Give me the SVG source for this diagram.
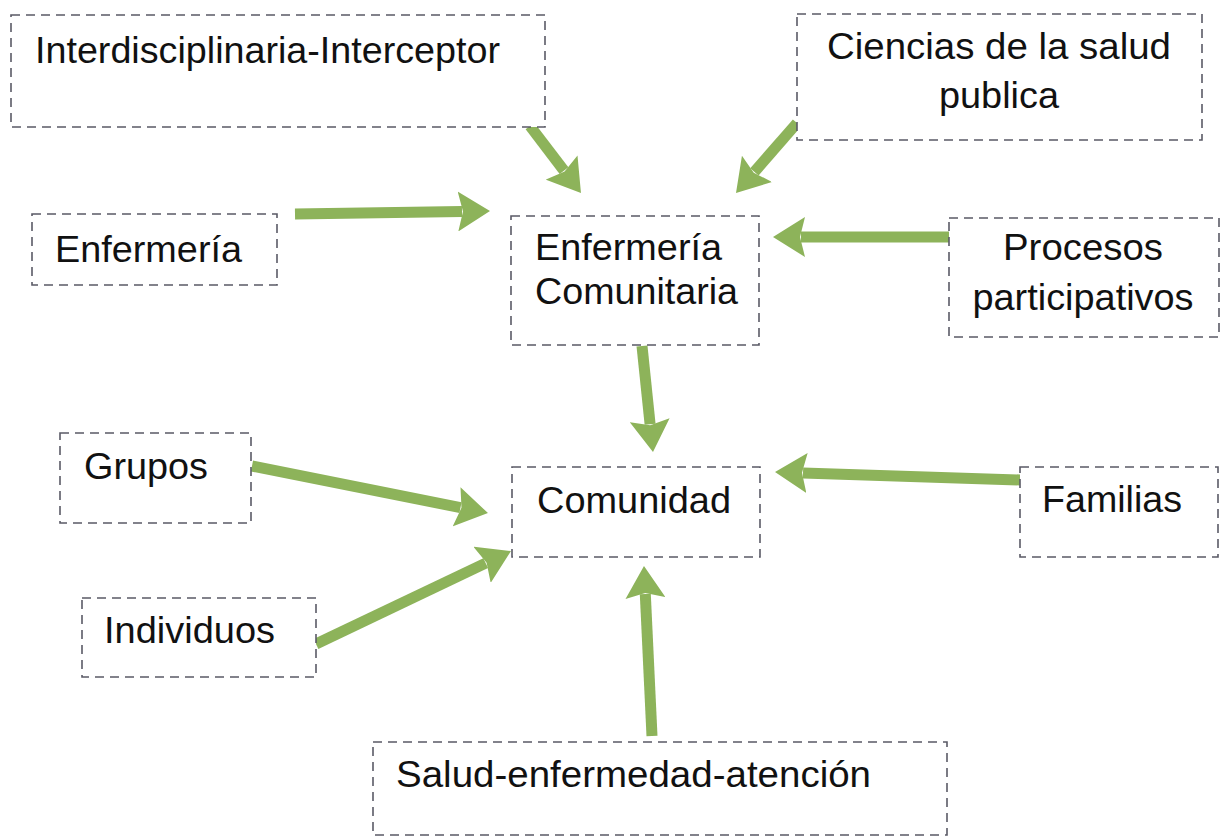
<svg xmlns="http://www.w3.org/2000/svg" width="1220" height="838" viewBox="0 0 1220 838">
<style>
.box{fill:#fff;stroke:#5a5a66;stroke-width:1.6;stroke-dasharray:9 6}
.t{font-family:"Liberation Sans",Arial,sans-serif;font-size:37px;fill:#111}
.c{text-anchor:middle}
.arr{stroke:#8db35a;stroke-width:11;fill:none;marker-end:url(#ah)}
</style>
<defs>
<marker id="ah" viewBox="0 0 32 40" markerUnits="userSpaceOnUse" markerWidth="32" markerHeight="40" refX="4" refY="20" orient="auto">
<path d="M0,0 L32,20 L0,40 L5,20 z" fill="#8db35a"/>
</marker>
</defs>
<rect width="1220" height="838" fill="#fff"/>
<g id="connectors">
<line class="arr" x1="530" y1="126" x2="564" y2="170.7"/>
<line class="arr" x1="797" y1="123" x2="754.4" y2="171.9"/>
<line class="arr" x1="295" y1="214" x2="462" y2="211.4"/>
<line class="arr" x1="949" y1="237" x2="801" y2="237"/>
<line class="arr" x1="642" y1="346" x2="650.1" y2="424.2"/>
<line class="arr" x1="252" y1="466" x2="460.5" y2="507.6"/>
<line class="arr" x1="316" y1="644" x2="485.7" y2="563.1"/>
<line class="arr" x1="1020" y1="480" x2="803" y2="472.9"/>
<line class="arr" x1="652" y1="736" x2="645.3" y2="594"/>
</g>
<g id="interdisciplinaria">
<rect class="box" x="11" y="15" width="534" height="112"/>
<text class="t" x="35" y="63" textLength="465" lengthAdjust="spacingAndGlyphs">Interdisciplinaria-Interceptor</text>
</g>
<g id="ciencias">
<rect class="box" x="797" y="14" width="405" height="126"/>
<text class="t c" x="999" y="59" textLength="344" lengthAdjust="spacingAndGlyphs">Ciencias de la salud</text>
<text class="t c" x="999" y="108" textLength="120" lengthAdjust="spacingAndGlyphs">publica</text>
</g>
<g id="enfermeria">
<rect class="box" x="32" y="214" width="245" height="71"/>
<text class="t" x="55" y="262" textLength="187" lengthAdjust="spacingAndGlyphs">Enfermería</text>
</g>
<g id="enfermeria-comunitaria">
<rect class="box" x="511" y="216" width="248" height="129"/>
<text class="t" x="535" y="260" textLength="187" lengthAdjust="spacingAndGlyphs">Enfermería</text>
<text class="t" x="535" y="304" textLength="203" lengthAdjust="spacingAndGlyphs">Comunitaria</text>
</g>
<g id="procesos">
<rect class="box" x="949" y="218" width="270" height="119"/>
<text class="t c" x="1083" y="260" textLength="160" lengthAdjust="spacingAndGlyphs">Procesos</text>
<text class="t c" x="1083" y="310" textLength="221" lengthAdjust="spacingAndGlyphs">participativos</text>
</g>
<g id="grupos">
<rect class="box" x="60" y="433" width="191" height="90"/>
<text class="t" x="84" y="479" textLength="124" lengthAdjust="spacingAndGlyphs">Grupos</text>
</g>
<g id="comunidad">
<rect class="box" x="512" y="467" width="248" height="90"/>
<text class="t" x="537" y="513" textLength="194" lengthAdjust="spacingAndGlyphs">Comunidad</text>
</g>
<g id="familias">
<rect class="box" x="1020" y="467" width="198" height="90"/>
<text class="t" x="1042" y="512" textLength="140" lengthAdjust="spacingAndGlyphs">Familias</text>
</g>
<g id="individuos">
<rect class="box" x="82" y="598" width="234" height="79"/>
<text class="t" x="104" y="643" textLength="171" lengthAdjust="spacingAndGlyphs">Individuos</text>
</g>
<g id="salud">
<rect class="box" x="373" y="742" width="574" height="93"/>
<text class="t" x="396" y="787" textLength="475" lengthAdjust="spacingAndGlyphs">Salud-enfermedad-atención</text>
</g>
</svg>
